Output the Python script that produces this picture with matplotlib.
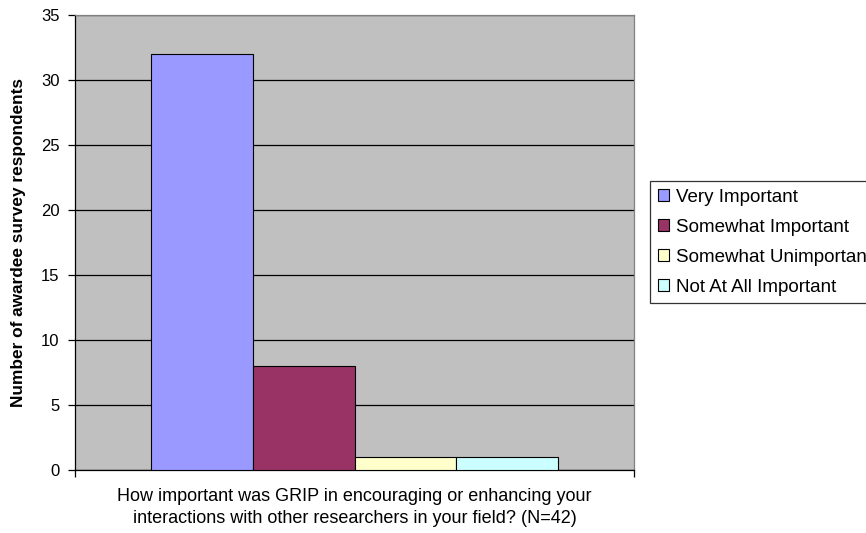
import matplotlib
matplotlib.use('Agg')
import matplotlib.pyplot as plt
import numpy as np

plt.rcParams['font.family'] = ['Liberation Sans', 'DejaVu Sans']

# survey answers
answers = ['Very Important', 'Somewhat Important',
           'Somewhat Unimportant', 'Not At All Important']
counts = [32, 8, 1, 1]
colors = ['#9999FF', '#993366', '#FFFFCC', '#CCFFFF']
question = ('How important was GRIP in encouraging or enhancing your\n'
            'interactions with other researchers in your field? (N=42)')
yticks = [0, 5, 10, 15, 20, 25, 30, 35]

fig = plt.figure(figsize=(8.66, 5.33), dpi=100)
ax = fig.add_axes([75/866, 1 - 470/533, 559/866, 455/533])
ax.set_facecolor('#C0C0C0')

# Excel style: gap width 150% -> bar width 1/5.5
w = 1 / 5.5
for i, (lab, val, col) in enumerate(zip(answers, counts, colors)):
    ax.bar((i - 1.5) * w, val, width=w, color=col, edgecolor='black',
           linewidth=0.8, label=lab, zorder=3)

ax.set_xlim(-0.5, 0.5)
ax.set_ylim(0, 35)
ax.set_yticks(yticks)
ax.yaxis.grid(True, color='black', linewidth=0.9, zorder=1)
ax.set_axisbelow(True)
ax.tick_params(axis='y', direction='out', length=5, width=0.9, labelsize=12, pad=6)

ax.set_xticks([])
ax.set_xticks([-0.5, 0.5], minor=True)
ax.tick_params(axis='x', which='minor', direction='out', length=5, width=0.9)

for s in ['left', 'bottom']:
    ax.spines[s].set_color('black')
    ax.spines[s].set_linewidth(0.9)
for s in ['top', 'right']:
    ax.spines[s].set_color('#808080')
    ax.spines[s].set_linewidth(0.9)

ax.set_ylabel('Number of awardee survey respondents', fontsize=12.4,
              fontweight='bold', labelpad=11)

# category label under the axis, two lines
fig.text((75 + 559 / 2) / 866, 1 - 488/533, question, ha='center', va='top',
         fontsize=13, linespacing=1.35)

leg = fig.legend(loc='upper left', bbox_to_anchor=(650/866, 1 - 181/533),
                 frameon=True, fancybox=False, shadow=False, fontsize=13.5,
                 handlelength=0.6, handleheight=0.6, handletextpad=0.4,
                 labelspacing=0.7, borderpad=0.4, borderaxespad=0)
leg.get_frame().set_edgecolor('black')
leg.get_frame().set_linewidth(0.9)

fig.savefig('out.png', dpi=100)
